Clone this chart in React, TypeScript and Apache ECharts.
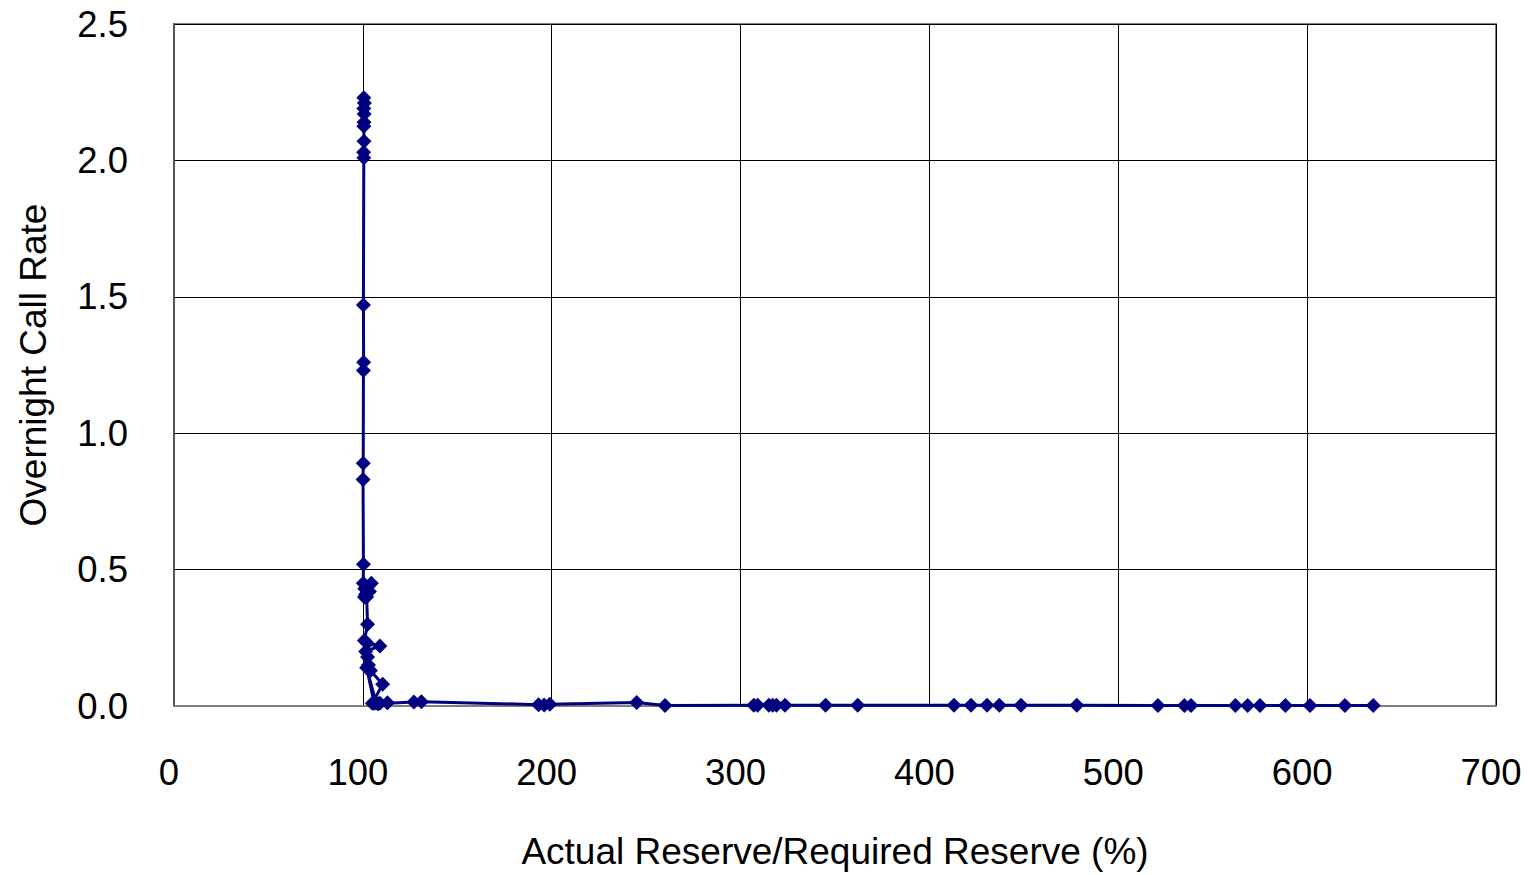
import React, { useEffect, useRef } from "react";
import * as echarts from "echarts";

const reserveRatio: number[] = [
  100.5, 100.8, 100.5, 100.7, 100.6, 100.5, 100.6, 100.4, 100.5, 100.3, 100.4, 100.3, 100.2, 100.1, 100.3,
  100.2, 101, 101.5, 100.8, 104.5, 103.5, 102, 102.5, 100.8, 102.3, 109, 101.5, 102.5, 103, 104, 110.5,
  105, 107, 102, 106, 109, 113, 108,
  127, 131, 193, 196, 199, 245, 260, 307, 309, 315, 317, 319, 323.5, 345, 362, 413, 422, 430.5, 437,
  448.5, 478, 521, 535, 538.5, 562, 568.5, 575, 588.5, 601.5, 620, 635,
];
const callRate: number[] = [
  2.23, 2.21, 2.19, 2.17, 2.14, 2.125, 2.07, 2.03, 2.01, 1.47, 1.26, 1.23, 0.89, 0.83, 0.52,
  0.45, 0.43, 0.41, 0.40, 0.45, 0.42, 0.40, 0.30, 0.24, 0.23, 0.22, 0.20, 0.18, 0.15, 0.13, 0.08,
  0.01, 0.012, 0.14, 0.01, 0.01, 0.012, 0.008,
  0.015, 0.016, 0.005, 0.004, 0.006, 0.013, 0.002, 0.003, 0.003, 0.003, 0.003, 0.003, 0.003, 0.003,
  0.003, 0.003, 0.003, 0.003, 0.003, 0.003, 0.003, 0.002, 0.002, 0.002, 0.002, 0.002, 0.002, 0.002,
  0.002, 0.002, 0.002,
];

const xAxisName = "Actual Reserve/Required Reserve (%)";
const yAxisName = "Overnight Call Rate";

export default function App() {
  const ref = useRef<HTMLDivElement>(null);
  useEffect(() => {
    if (!ref.current) return;
    const chart = echarts.init(ref.current, null, { renderer: "svg" });
    const font = "Liberation Sans, Arial, sans-serif";
    const data = reserveRatio.map((x, i) => [x, callRate[i]]);
    chart.setOption({
      animation: false,
      backgroundColor: "#ffffff",
      grid: {
        left: 174,
        top: 24,
        right: 32,
        bottom: 167,
        show: true,
        borderColor: "#7f7f7f",
        borderWidth: 2,
      },
      xAxis: {
        type: "value",
        min: 0,
        max: 700,
        interval: 100,
        name: xAxisName,
        nameLocation: "middle",
        nameGap: 127,
        nameTextStyle: { fontFamily: font, fontSize: 37, color: "#000" },
        axisLine: { show: true, lineStyle: { color: "#7f7f7f", width: 2 } },
        axisTick: { show: false },
        axisLabel: { fontFamily: font, fontSize: 36.5, color: "#000", margin: 48, padding: [0, 10, 0, 0] },
        splitLine: { show: true, lineStyle: { color: "#000", width: 1 } },
      },
      yAxis: {
        type: "value",
        min: 0,
        max: 2.5,
        interval: 0.5,
        name: yAxisName,
        nameLocation: "middle",
        nameGap: 122,
        nameTextStyle: { fontFamily: font, fontSize: 37, color: "#000" },
        axisLine: { show: true, lineStyle: { color: "#555", width: 2 } },
        axisTick: { show: false },
        axisLabel: {
          fontFamily: font,
          fontSize: 36.5,
          color: "#000",
          margin: 46,
          formatter: (v: number) => v.toFixed(1),
        },
        splitLine: { show: true, lineStyle: { color: "#000", width: 1 } },
      },
      series: [
        {
          type: "line",
          data,
          symbol: "diamond",
          symbolSize: 15,
          lineStyle: { color: "#000080", width: 3 },
          itemStyle: { color: "#000080" },
        },
      ],
    });
    return () => chart.dispose();
  }, []);
  return (
    <div
      ref={ref}
      style={{ position: "fixed", left: 0, top: 0, width: 1528, height: 875, background: "#fff" }}
    />
  );
}
